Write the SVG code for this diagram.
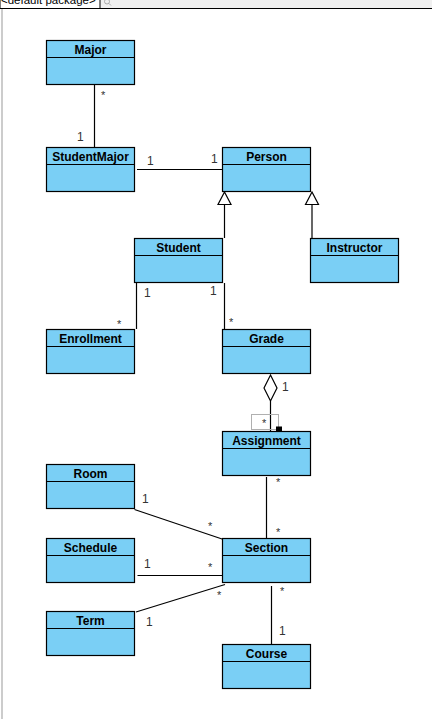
<svg xmlns="http://www.w3.org/2000/svg" width="432" height="719" viewBox="0 0 432 719">
<style>
.box{fill:#7ACFF5;stroke:#000;stroke-width:1.2}
.div{stroke:#000;stroke-width:1.2}
.name{font-family:"Liberation Sans",Arial,sans-serif;font-size:12px;font-weight:bold;fill:#000;text-anchor:middle}
.lbl{font-family:"Liberation Sans",Arial,sans-serif;font-size:12px;fill:#333}
.star{font-family:"Liberation Sans",Arial,sans-serif;font-size:11px;fill:#333}
.ln{stroke:#000;stroke-width:1.2;fill:none}
</style>
<rect x="0" y="0" width="432" height="719" fill="#fff"/>
<rect x="0" y="0" width="432" height="8.5" fill="#f0f0f0"/>
<rect x="0" y="-2" width="100" height="10.5" fill="#fff" stroke="#000" stroke-width="1"/>
<text x="1" y="3.5" font-family="'Liberation Sans',Arial,sans-serif" font-size="11.5px" fill="#000">&lt;default package&gt;</text>
<circle cx="107" cy="1.5" r="2.5" fill="none" stroke="#999" stroke-width="0.8"/>
<line x1="109" y1="3.5" x2="111" y2="5.5" stroke="#999" stroke-width="0.8"/>
<line x1="0" y1="8.5" x2="432" y2="8.5" stroke="#000" stroke-width="1"/>
<line x1="2" y1="9" x2="2" y2="719" stroke="#999" stroke-width="1"/>

<g id="connectors">
<line class="ln" x1="94.5" y1="84" x2="94.5" y2="147"/>
<line class="ln" x1="137" y1="169.5" x2="222" y2="169.5"/>
<line class="ln" x1="224.5" y1="204" x2="224.5" y2="238"/>
<polygon points="224.5,192 218,204.5 231,204.5" fill="#fff" stroke="#000" stroke-width="1.2"/>
<line class="ln" x1="312" y1="204" x2="312" y2="238"/>
<polygon points="312,192 305.5,204.5 318.5,204.5" fill="#fff" stroke="#000" stroke-width="1.2"/>
<line class="ln" x1="136.5" y1="283" x2="136.5" y2="329"/>
<line class="ln" x1="224.5" y1="283" x2="224.5" y2="330"/>
<polygon points="270.5,375 277,388 270.5,401 264,388" fill="#fff" stroke="#000" stroke-width="1.2"/>
<line class="ln" x1="270.5" y1="401" x2="270.5" y2="431"/>
<rect x="251.5" y="414.5" width="27" height="15" fill="none" stroke="#b0b0b0" stroke-width="1"/>
<rect x="276" y="426.5" width="6" height="6" fill="#000"/>
<line class="ln" x1="266.5" y1="477" x2="266.5" y2="538"/>
<line class="ln" x1="134.5" y1="509.5" x2="226.5" y2="540.5"/>
<line class="ln" x1="137.5" y1="575.5" x2="223" y2="575.5"/>
<line class="ln" x1="136" y1="612" x2="225" y2="584.5"/>
<line class="ln" x1="271.5" y1="586" x2="271.5" y2="644"/>
<text class="star" x="101" y="99">*</text>
<text class="lbl" x="77" y="141">1</text>
<text class="lbl" x="147" y="165">1</text>
<text class="lbl" x="211" y="163">1</text>
<text class="lbl" x="144" y="297">1</text>
<text class="star" x="117" y="328">*</text>
<text class="lbl" x="210" y="295">1</text>
<text class="star" x="229" y="326">*</text>
<text class="lbl" x="282" y="391">1</text>
<text class="star" x="262" y="427">*</text>
<text class="star" x="276" y="486">*</text>
<text class="star" x="276" y="536">*</text>
<text class="lbl" x="142" y="503">1</text>
<text class="star" x="208" y="530">*</text>
<text class="lbl" x="144" y="568">1</text>
<text class="star" x="208" y="571">*</text>
<text class="lbl" x="146" y="626">1</text>
<text class="star" x="217" y="599">*</text>
<text class="star" x="280" y="595">*</text>
<text class="lbl" x="279" y="635">1</text>
</g>

<g id="Major"><rect class="box" x="46.5" y="40.5" width="88" height="44"/><line class="div" x1="46.5" y1="57.5" x2="134.5" y2="57.5"/><text class="name" x="90.5" y="53.5">Major</text></g>
<g id="StudentMajor"><rect class="box" x="46.5" y="147.5" width="88" height="44"/><line class="div" x1="46.5" y1="164.5" x2="134.5" y2="164.5"/><text class="name" x="90.5" y="160.5">StudentMajor</text></g>
<g id="Person"><rect class="box" x="222.5" y="147.5" width="88" height="44"/><line class="div" x1="222.5" y1="164.5" x2="310.5" y2="164.5"/><text class="name" x="266.5" y="160.5">Person</text></g>
<g id="Student"><rect class="box" x="134.5" y="238.5" width="88" height="44"/><line class="div" x1="134.5" y1="255.5" x2="222.5" y2="255.5"/><text class="name" x="178.5" y="251.5">Student</text></g>
<g id="Instructor"><rect class="box" x="310.5" y="238.5" width="88" height="44"/><line class="div" x1="310.5" y1="255.5" x2="398.5" y2="255.5"/><text class="name" x="354.5" y="251.5">Instructor</text></g>
<g id="Enrollment"><rect class="box" x="46.5" y="329.5" width="88" height="44"/><line class="div" x1="46.5" y1="346.5" x2="134.5" y2="346.5"/><text class="name" x="90.5" y="342.5">Enrollment</text></g>
<g id="Grade"><rect class="box" x="222.5" y="329.5" width="88" height="44"/><line class="div" x1="222.5" y1="346.5" x2="310.5" y2="346.5"/><text class="name" x="266.5" y="342.5">Grade</text></g>
<g id="Assignment"><rect class="box" x="222.5" y="431.5" width="88" height="44"/><line class="div" x1="222.5" y1="448.5" x2="310.5" y2="448.5"/><text class="name" x="266.5" y="444.5">Assignment</text></g>
<g id="Room"><rect class="box" x="46.5" y="464.5" width="88" height="44"/><line class="div" x1="46.5" y1="481.5" x2="134.5" y2="481.5"/><text class="name" x="90.5" y="477.5">Room</text></g>
<g id="Section"><rect class="box" x="222.5" y="538.5" width="88" height="44"/><line class="div" x1="222.5" y1="555.5" x2="310.5" y2="555.5"/><text class="name" x="266.5" y="551.5">Section</text></g>
<g id="Schedule"><rect class="box" x="46.5" y="538.5" width="88" height="44"/><line class="div" x1="46.5" y1="555.5" x2="134.5" y2="555.5"/><text class="name" x="90.5" y="551.5">Schedule</text></g>
<g id="Term"><rect class="box" x="46.5" y="611.5" width="88" height="44"/><line class="div" x1="46.5" y1="628.5" x2="134.5" y2="628.5"/><text class="name" x="90.5" y="624.5">Term</text></g>
<g id="Course"><rect class="box" x="222.5" y="644.5" width="88" height="44"/><line class="div" x1="222.5" y1="661.5" x2="310.5" y2="661.5"/><text class="name" x="266.5" y="657.5">Course</text></g>
</svg>
